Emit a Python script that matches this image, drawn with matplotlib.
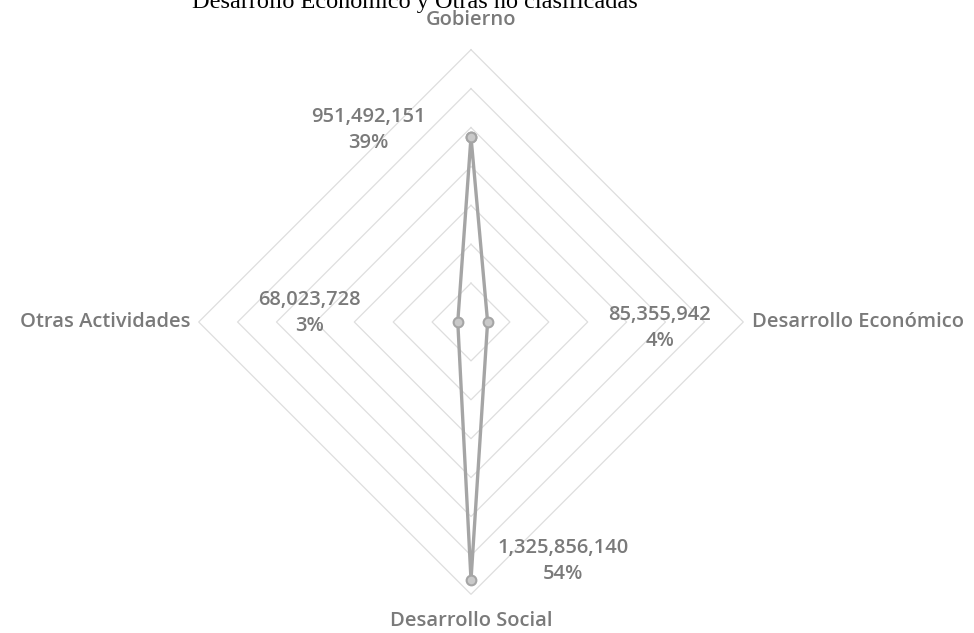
import numpy as np
import matplotlib
matplotlib.use("Agg")
import matplotlib.pyplot as plt

categories = ["Gobierno", "Desarrollo Económico", "Desarrollo Social", "Otras Actividades"]
values = [951492151, 85355942, 1325856140, 68023728]
pct_labels = ["39%", "4%", "54%", "3%"]
ring_values = [200e6, 400e6, 600e6, 800e6, 1000e6, 1200e6, 1400e6]

title = "Desarrollo Económico y Otras no clasificadas"

W, H, DPI = 974, 633, 100
cx, cy = 471, 322          # centre of the radar, pixels from top-left
px_per_unit = 194.5        # pixels per 1e9

fig = plt.figure(figsize=(W / DPI, H / DPI), dpi=DPI)
ax = fig.add_axes([0, 0, 1, 1])
ax.set_xlim(-cx / px_per_unit, (W - cx) / px_per_unit)
ax.set_ylim(-(H - cy) / px_per_unit, cy / px_per_unit)
ax.axis("off")

angles = np.pi / 2 - np.arange(len(categories)) * 2 * np.pi / len(categories)

# diamond grid
for rv in ring_values:
    r = rv / 1e9
    gx = np.append(r * np.cos(angles), r * np.cos(angles[0]))
    gy = np.append(r * np.sin(angles), r * np.sin(angles[0]))
    ax.plot(gx, gy, color="#dedede", lw=0.9, zorder=1)

# data series
r = np.array(values) / 1e9
x = r * np.cos(angles)
y = r * np.sin(angles)
ax.plot(np.append(x, x[0]), np.append(y, y[0]), color="#a5a5a5", lw=2.4,
        marker="o", ms=7, mfc="#c9c9c9", mec="#a5a5a5", mew=1.5, zorder=3)

gray = "#7a7a7a"
font = ["Open Sans", "DejaVu Sans"]

# data labels
offsets = [(-103, 7), (172, -6), (92, 19), (-148, 9)]
for xi, yi, v, p, off in zip(x, y, values, pct_labels, offsets):
    ax.annotate(f"{v:,}\n{p}", (xi, yi), xytext=off, textcoords="offset pixels",
                ha="center", va="center", color=gray, fontsize=14.5,
                fontweight="semibold", family=font, linespacing=1.4)

# category labels
cat_pos = [(0, 302, "center", "center"), (281, 0, "left", "center"),
           (0, -299, "center", "center"), (-281, 0, "right", "center")]
for name, (dx, dy, ha, va) in zip(categories, cat_pos):
    ax.annotate(name, (0, 0), xytext=(dx, dy), textcoords="offset pixels",
                ha=ha, va=va, color=gray, fontsize=14.5, fontweight="semibold",
                family=font)

fig.text(415 / W, 1 - 8 / H, title, ha="center", va="baseline",
         fontsize=17.5, family="Liberation Serif", color="black")

fig.savefig("out.png", dpi=DPI)
